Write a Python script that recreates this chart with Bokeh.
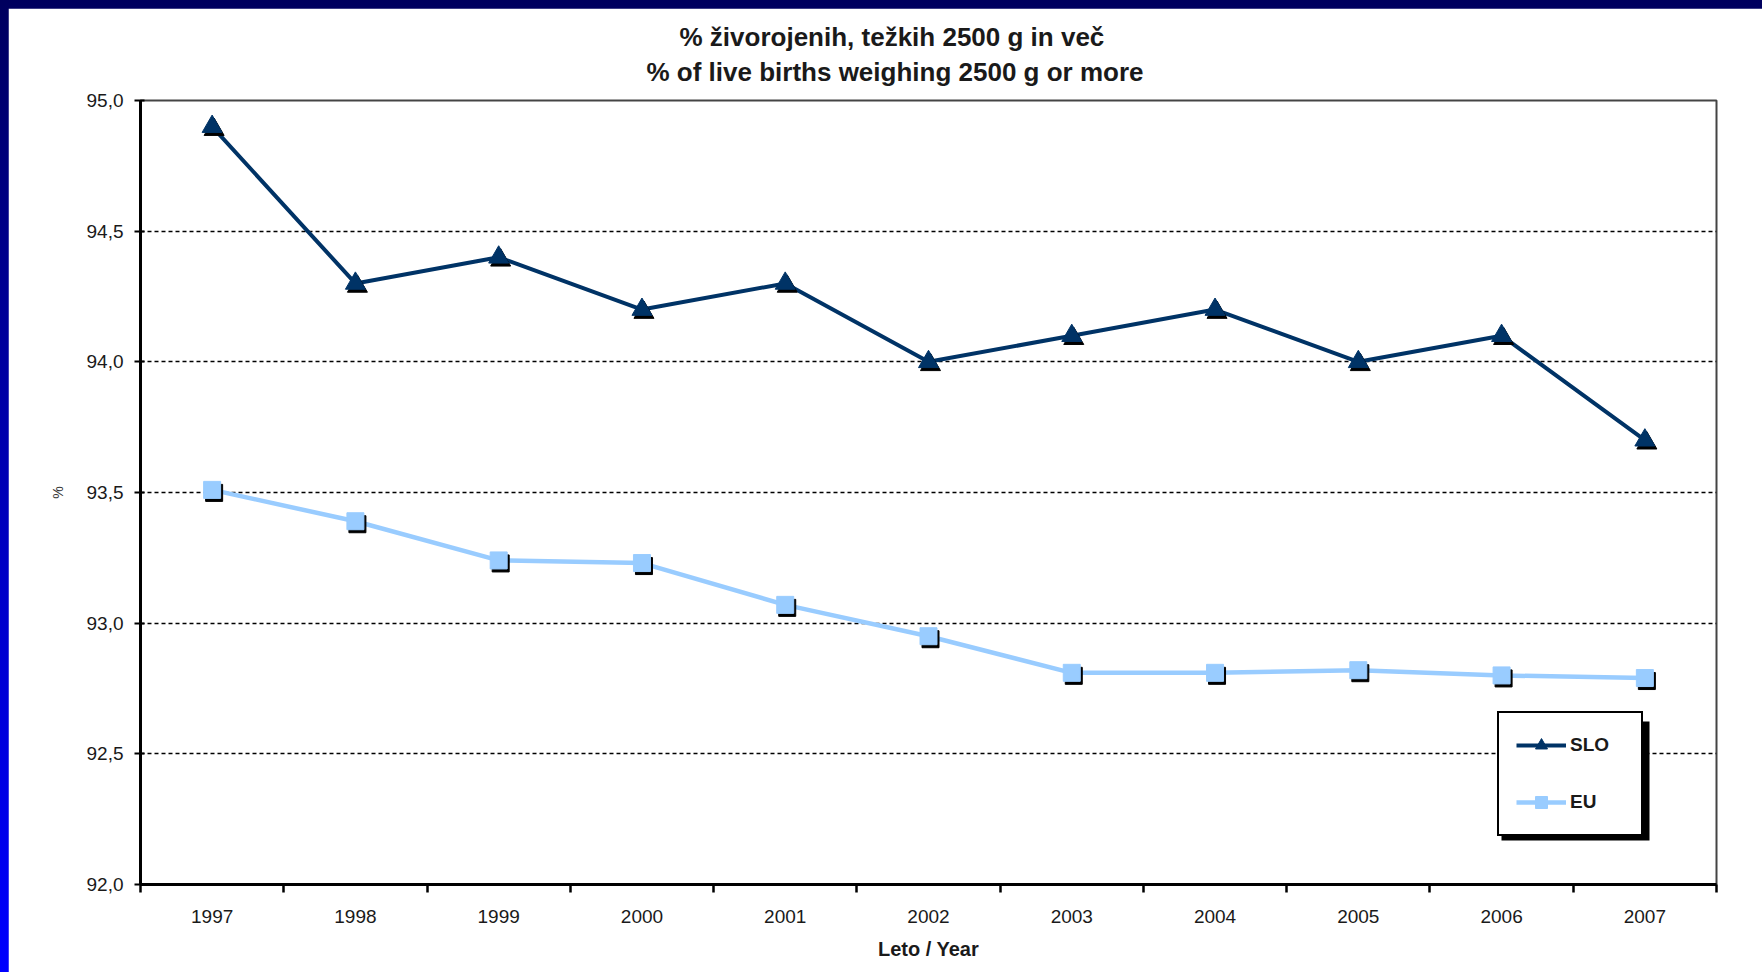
from bokeh.plotting import figure
from bokeh.models import (Range1d, FixedTicker, CustomJSTickFormatter, Legend, LegendItem,
                          Title, BoxAnnotation, ColumnDataSource)
from bokeh.transform import dodge
from bokeh.embed import file_html
from bokeh.resources import INLINE
from jinja2 import Template

# ---- data ----
years = [1997, 1998, 1999, 2000, 2001, 2002, 2003, 2004, 2005, 2006, 2007]
slo = [94.9, 94.3, 94.4, 94.2, 94.3, 94.0, 94.1, 94.2, 94.0, 94.1, 93.7]
eu = [93.51, 93.39, 93.24, 93.23, 93.07, 92.95, 92.81, 92.81, 92.82, 92.80, 92.79]
y_ticks = [92.0, 92.5, 93.0, 93.5, 94.0, 94.5, 95.0]
title_si = "% živorojenih, težkih 2500 g in več"
title_en = "% of live births weighing 2500 g or more"
x_title = "Leto / Year"
y_title = "%"
series_names = ["SLO", "EU"]

FONT = "Liberation Sans"
NAVY = "#003366"
LIGHT = "#99CCFF"

src = ColumnDataSource(dict(year=years, slo=slo, eu=eu))

FW, FH = 1576, 784
p = figure(width=1754, height=964, output_backend="svg", toolbar_location=None,
           x_range=Range1d(years[0] - 0.5, years[-1] + 0.5),
           y_range=Range1d(y_ticks[0], y_ticks[-1]),
           min_border_left=132, min_border_right=46, min_border_top=92, min_border_bottom=88)
p.title = None
p.background_fill_color = "white"
p.border_fill_color = "white"
p.outline_line_color = "#444444"
p.outline_line_width = 2

# x axis
xax = p.xaxis[0]
xax.ticker = FixedTicker(ticks=years, minor_ticks=[y - 0.5 for y in years] + [years[-1] + 0.5])
xax.major_tick_line_color = None
xax.minor_tick_in = 0
xax.minor_tick_out = 8
xax.minor_tick_line_width = 2.5
xax.minor_tick_line_color = "black"
xax.axis_line_color = "black"
xax.axis_line_width = 3
xax.major_label_text_font = FONT
xax.major_label_text_font_size = "19px"
xax.major_label_text_color = "#1a1a1a"
xax.major_label_standoff = 17
xax.axis_label = x_title
xax.axis_label_text_font = FONT
xax.axis_label_text_font_style = "bold"
xax.axis_label_text_font_size = "20px"
xax.axis_label_text_color = "#1a1a1a"
xax.axis_label_standoff = 12

# y axis
yax = p.yaxis[0]
yax.ticker = FixedTicker(ticks=y_ticks)
yax.formatter = CustomJSTickFormatter(code="return tick.toFixed(1).replace('.', ',');")
yax.major_tick_in = 4
yax.major_tick_out = 6
yax.major_tick_line_width = 2
yax.major_tick_line_color = "black"
yax.minor_tick_line_color = None
yax.axis_line_color = "black"
yax.axis_line_width = 3
yax.major_label_text_font = FONT
yax.major_label_text_font_size = "19px"
yax.major_label_text_color = "#1a1a1a"
yax.major_label_standoff = 11
yax.axis_label = y_title
yax.axis_label_text_font = FONT
yax.axis_label_text_font_style = "normal"
yax.axis_label_text_font_size = "14px"
yax.axis_label_text_color = "#333333"
yax.axis_label_standoff = 18

p.xgrid.grid_line_color = None
p.ygrid.ticker = FixedTicker(ticks=y_ticks[1:-1])
p.ygrid.grid_line_color = "black"
p.ygrid.grid_line_width = 1.3
p.ygrid.grid_line_dash = "4 3"

# shadow offsets (px -> data)
dx = 2 * (len(years)) / FW
dy = -3 * (y_ticks[-1] - y_ticks[0]) / FH

# SLO
l1 = p.line("year", "slo", source=src, line_color=NAVY, line_width=4)
p.scatter(dodge("year", dx, range=p.x_range), dodge("slo", dy, range=p.y_range), source=src,
          marker="triangle", size=20, fill_color="black", line_color="black")
m1 = p.scatter("year", "slo", source=src, marker="triangle", size=20,
               fill_color=NAVY, line_color=NAVY)

# EU
l2 = p.line("year", "eu", source=src, line_color=LIGHT, line_width=4.5)
p.scatter(dodge("year", dx, range=p.x_range), dodge("eu", dy, range=p.y_range), source=src,
          marker="square", size=17, fill_color="black", line_color="black")
m2 = p.scatter("year", "eu", source=src, marker="square", size=17,
               fill_color=LIGHT, line_color=LIGHT)

# legend shadow
p.add_layout(BoxAnnotation(left=1361, right=1509, bottom=44, top=163,
                           left_units="screen", right_units="screen",
                           bottom_units="screen", top_units="screen",
                           fill_color="black", fill_alpha=1.0, line_color=None, level="overlay"))

legend = Legend(items=[LegendItem(label=series_names[0], renderers=[l1, m1]),
                       LegendItem(label=series_names[1], renderers=[l2, m2])],
                location=(1357, 48), orientation="vertical",
                border_line_color="black", border_line_width=2, border_line_alpha=1.0,
                background_fill_color="white", background_fill_alpha=1.0,
                padding=17, margin=0, spacing=27,
                glyph_width=50, glyph_height=30, label_height=30, label_width=54,
                label_standoff=4,
                label_text_font=FONT, label_text_font_style="bold",
                label_text_font_size="19px", label_text_color="#1a1a1a")
p.add_layout(legend, "center")

# title (two lines, stacked above the frame; first added is nearest the frame)
p.add_layout(Title(text=title_en, align="left", offset=506, standoff=28,
                   text_font=FONT, text_font_style="bold", text_font_size="26px",
                   text_color="#1a1a1a"), "above")
p.add_layout(Title(text=title_si, align="left", offset=539, standoff=-22,
                   text_font=FONT, text_font_style="bold", text_font_size="26px",
                   text_color="#1a1a1a"), "above")

template = Template("""{% extends base %}
{% block postamble %}
<style>
html { margin: 0; padding: 0; overflow: hidden; height: 100%;
       background: linear-gradient(to bottom, #00005e 0%, #0000c8 60%, #0000ff 100%); }
body { margin: 8px 0 0 8px !important; padding: 0 !important; background: transparent; overflow: hidden; }
</style>
{% endblock %}
""")

open("out.html", "w").write(file_html(p, INLINE, template=template))
